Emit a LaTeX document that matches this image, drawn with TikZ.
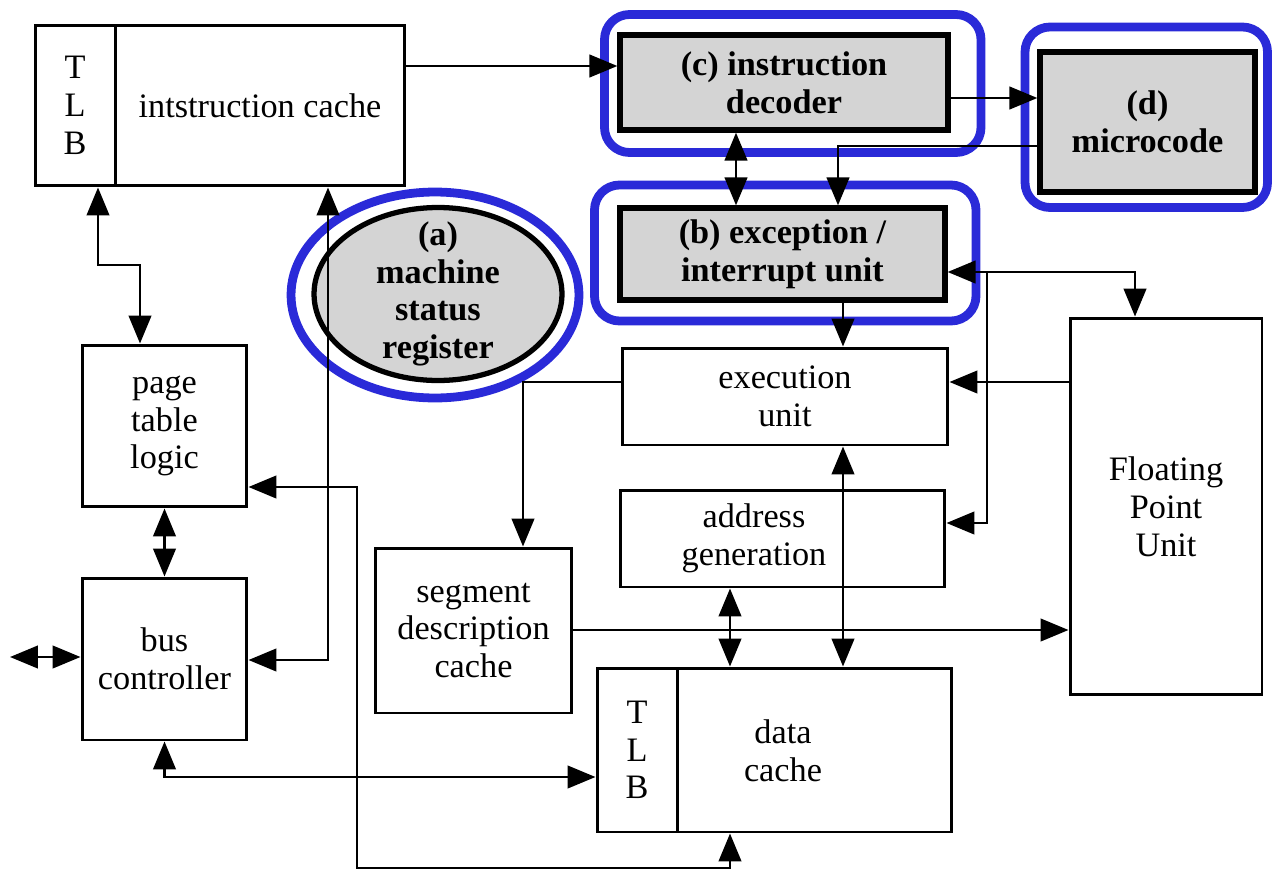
\documentclass[tikz,border=0pt]{standalone}
\usepackage{fontspec}
\setmainfont{Liberation Serif}
\definecolor{markBlue}{HTML}{2A2AD8}
\definecolor{keyGrey}{HTML}{D4D4D4}
\usetikzlibrary{arrows.meta, shapes.geometric}
\tikzset{
    unit node/.style={rectangle, draw=black, line width=1.7pt, align=center, inner sep=0pt, font=\fontsize{19.5}{21.5}\selectfont},
    key node/.style={rectangle, draw=black, line width=3pt, fill=keyGrey, align=center, inner sep=0pt, font=\fontsize{19.5}{21.5}\selectfont\bfseries},
    reg node/.style={ellipse, draw=black, line width=3pt, fill=keyGrey, align=center, inner xsep=0pt, inner ysep=-0.5cm, font=\fontsize{19.5}{21.5}\selectfont\bfseries},
    text node/.style={align=center, inner sep=0pt, font=\fontsize{19.5}{21.5}\selectfont},
    mark box/.style={draw=markBlue, line width=5pt, rounded corners=0.5cm},
    arrow style/.style={-{Triangle[length=5.6mm, width=4.5mm]}, line width=1.6pt},
    both style/.style={{Triangle[length=5.6mm, width=4.5mm]}-{Triangle[length=5.6mm, width=4.5mm]}, line width=1.6pt},
}

\begin{document}
\begin{tikzpicture}[x=0.02cm, y=-0.02cm]
    \useasboundingbox (0,0) rectangle (1274,872);

    \node[unit node, minimum width=1.6cm, minimum height=3.22cm] (itlb) at (75,105.5) {T\\L\\B};
    \node[unit node, minimum width=5.8cm, minimum height=3.22cm] (icache) at (260,105.5) {intstruction cache};
    \node[key node, minimum width=6.56cm, minimum height=1.9cm] (dec) at (784,82.5) {(c) instruction\\decoder};
    \node[key node, minimum width=4.3cm, minimum height=2.8cm] (micro) at (1147.5,122) {(d)\\microcode};
    \node[key node, minimum width=6.5cm, minimum height=1.84cm] (exc) at (782.5,254) {(b) exception /\\interrupt unit};
    \node[reg node, minimum width=4.96cm, minimum height=3.46cm] (msr) at (438,294) {(a)\\machine\\status\\register};
    \node[unit node, minimum width=6.52cm, minimum height=1.94cm] (exec) at (785,396.5) {execution\\unit};
    \node[unit node, minimum width=6.5cm, minimum height=1.94cm] (addr) at (782.5,538.5) {};
    \node[text node] (addrtext) at (754,538.5) {address\\generation};
    \node[unit node, minimum width=3.84cm, minimum height=7.54cm] (fpu) at (1166,506.5) {Floating\\Point\\Unit};
    \node[unit node, minimum width=3.94cm, minimum height=3.3cm] (seg) at (473.5,630.5) {segment\\description\\cache};
    \node[unit node, minimum width=1.6cm, minimum height=3.28cm] (dtlb) at (637,750) {T\\L\\B};
    \node[unit node, minimum width=5.5cm, minimum height=3.28cm] (dcache) at (814.5,750) {};
    \node[text node] (dcachetext) at (783,751) {data\\cache};
    \node[unit node, minimum width=3.3cm, minimum height=3.24cm] (ptl) at (164.5,426) {page\\table\\logic};
    \node[unit node, minimum width=3.3cm, minimum height=3.24cm] (bus) at (164.5,659) {bus\\controller};
    \coordinate (ext) at (10,657);
    \coordinate (fpubus) at (987,272);

    \draw[mark box] (604.5,14.5) rectangle (981,152.5);
    \draw[mark box] (594.5,185) rectangle (976,321);
    \draw[mark box] (1025,27) rectangle (1267.5,207.5);
    \draw[mark box] (435,295) ellipse [x radius=2.88cm, y radius=2.06cm];

    \draw[arrow style] (icache.east |- 0,66) -- (dec.west |- 0,66);
    \draw[arrow style] (dec.east |- 0,98) -- (micro.west |- 0,98);
    \draw[arrow style] (micro.west |- 0,146) -| (exc.north -| 838,0);
    \draw[both style] (dec.south -| 736,0) -- (exc.north -| 736,0);
    \draw[arrow style] (exc.south -| 843,0) -- (exec.north -| 843,0);
    \draw[both style] (exc.east |- fpubus) -| (fpu.north -| 1135,0);
    \draw[arrow style] (fpubus) |- (addr.east |- 0,523);
    \draw[arrow style] (fpu.west |- 0,382) -- (exec.east |- 0,382);
    \draw[arrow style] (exec.west |- 0,382) -| (seg.north -| 523,0);
    \draw[both style] (exec.south -| 843,0) -- (dcache.north -| 843,0);
    \draw[both style] (addr.south -| 730,0) -- (dcache.north -| 730,0);
    \draw[arrow style] (seg.east |- 0,630) -- (fpu.west |- 0,630);
    \draw[both style] (itlb.south -| 98,0) |- (140,265) -- (ptl.north -| 140,0);
    \draw[both style] (ptl.south) -- (bus.north);
    \draw[both style] (bus.east |- 0,660) -| (icache.south -| 328,0);
    \draw[both style] (ptl.east |- 0,487) -- (357,487) |- (730,868) -- (dcache.south -| 730,0);
    \draw[both style] (bus.south) |- (dtlb.west |- 0,777);
    \draw[both style] (ext) -- (bus.west |- ext);
\end{tikzpicture}
\end{document}
